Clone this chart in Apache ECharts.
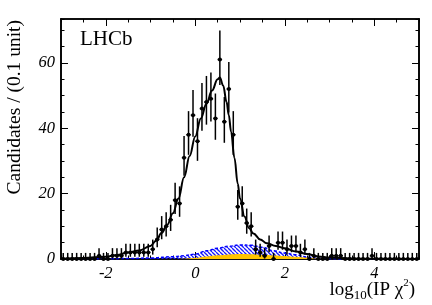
<!DOCTYPE html>
<html><head><meta charset="utf-8">
<script src="https://cdn.jsdelivr.net/npm/echarts@6/dist/echarts.min.js"></script>
<style>html,body{margin:0;padding:0;background:#fff}#c{width:432px;height:305px}</style>
</head><body><div id="c"></div>
<script>
// ---- data ----
const binStart = -3, binWidth = 0.1;
const counts = [
  0,0,0,0,0,0,0,0,
  1,0,0,
  1,1,1,
  2,2,2,2,2,
  2,3,6,9,10,12,18,17,
  31,38,44,36,46,48,49,43,61,42,52,38,
  16,17,11,10,3,2,1,4,0,5,5,3,4,4,2,3,0,1,
  0,0,0,1,1,1,0,0,0,0,0,0,1,
  0,0,0,0,0,0,0,0,0,0
];
const fitX = [-3,-2.5,-2,-1.75,-1.5,-1.25,-1,-0.875,-0.75,-0.625,-0.5,-0.375,-0.25,-0.125,0,0.125,0.25,0.375,0.5,0.55,0.625,0.7,0.75,0.8,0.875,0.95,1.0,1.1,1.2,1.3,1.45,1.6,1.8,2.0,2.25,2.5,2.75,3.0,3.5,4.0,5.0];
const fitY = [0.1,0.3,0.7,1.2,2.0,2.6,4.0,5.6,8,10.5,14,18.5,25,31.5,37.5,43,47.5,51.5,55,55.5,53,48,44,39,31,23,18.5,13,9.5,7.8,6,4.8,4,3.3,2.3,1.5,0.8,0.45,0.15,0.05,0];
const bkgX = [-3,-2,-1.5,-1,-0.5,-0.25,0,0.25,0.5,0.75,1.0,1.25,1.5,1.75,2.0,2.25,2.5,2.75,3.0,3.5,5];
const bkgY = [0,0.05,0.15,0.3,0.7,1.0,1.5,2.5,3.3,3.9,4.3,4.2,3.6,2.5,1.8,1.3,0.6,0.2,0.05,0,0];
const yelX = [-3,-0.5,-0.25,0,0.25,0.5,0.75,1.0,1.25,1.5,1.75,2.0,2.25,2.5,2.75,3.0,5];
const yelY = [0,0,0.1,0.35,0.8,1.15,1.4,1.5,1.45,1.3,1.1,0.9,0.65,0.4,0.15,0,0];
const xLabelValues = [-2,0,2,4];
const yLabelValues = [0,20,40,60];

// ---- build ----
const points = counts.map((n, i) => {
  const xc = binStart + binWidth * (i + 0.5);
  const hi = n + 1 + Math.sqrt(n + 0.75);
  const lo = n > 0 ? n - Math.sqrt(n - 0.25) : 0;
  return [xc, n, lo, hi];
});
const zip = (a, b) => a.map((v, i) => [v, b[i]]);

const hatch = document.createElement('canvas');
const s = 4; hatch.width = s; hatch.height = s;
const hc = hatch.getContext('2d');
hc.strokeStyle = '#1a1aff'; hc.lineWidth = 1.3;
for (const c of [-s, 0, s]) { hc.beginPath(); hc.moveTo(0, c); hc.lineTo(s, c + s); hc.stroke(); }

const FONT = 'Liberation Serif';
const X0 = -3, X1 = 5, Y0 = 0, Y1 = 73.4;
const line = {show: true, onZero: false, lineStyle: {color: '#000', width: 1.6}};
function xa(pos, long, labels) {
  return {type: 'value', min: X0, max: X1, position: pos, interval: long ? 1 : 0.5,
    axisLine: line, splitLine: {show: false},
    axisTick: Object.assign({show: true, inside: true, length: long ? 7 : 3.5, lineStyle: {color: '#000', width: 1}}, long ? {customValues: xLabelValues} : {}),
    axisLabel: labels ? {show: true, customValues: xLabelValues, fontFamily: FONT, fontStyle: 'italic', fontSize: 16.5, color: '#000', margin: 6} : {show: false}};
}
function ya(pos, long, labels) {
  return {type: 'value', min: Y0, max: Y1, position: pos, interval: long ? 20 : 5,
    axisLine: line, splitLine: {show: false},
    axisTick: Object.assign({show: true, inside: true, length: long ? 7 : 3.5, lineStyle: {color: '#000', width: 1}}, long ? {customValues: yLabelValues} : {}),
    axisLabel: labels ? {show: true, customValues: yLabelValues, fontFamily: FONT, fontStyle: 'italic', fontSize: 16.5, color: '#000', margin: 6} : {show: false}};
}

const chart = echarts.init(document.getElementById('c'), null, {renderer: 'canvas'});
chart.setOption({
  animation: false,
  backgroundColor: '#fff',
  grid: {left: 61, right: 13, top: 19, bottom: 46, containLabel: false},
  xAxis: [xa('bottom', false, false), xa('bottom', true, true), xa('top', false, false), xa('top', true, false)],
  yAxis: [ya('left', false, false), ya('left', true, true), ya('right', false, false), ya('right', true, false)],
  series: [
    {type: 'line', name: 'bkg', data: zip(bkgX, bkgY), smooth: 0.4, smoothMonotone: 'x', showSymbol: false, z: 2,
      lineStyle: {color: '#0000ff', width: 1.5, type: [3, 2]},
      areaStyle: {color: {image: hatch, repeat: 'repeat'}, opacity: 1}},
    {type: 'line', name: 'yel', data: zip(yelX, yelY), smooth: 0.4, smoothMonotone: 'x', showSymbol: false, z: 3,
      lineStyle: {width: 0, color: '#ffc400'}, areaStyle: {color: '#ffc400', opacity: 1}},
    {type: 'line', name: 'fit', data: zip(fitX, fitY), smooth: 0.4, smoothMonotone: 'x', showSymbol: false, z: 4,
      lineStyle: {color: '#000', width: 2}},
    {type: 'custom', name: 'data', data: points, z: 5,
      renderItem: function (params, api) {
        const xc = api.value(0), n = api.value(1), lo = api.value(2), hi = api.value(3);
        const p = api.coord([xc, n]);
        const pl = api.coord([xc - binWidth / 2, n]);
        const pr = api.coord([xc + binWidth / 2, n]);
        const pLo = api.coord([xc, lo]);
        const pHi = api.coord([xc, hi]);
        return {type: 'group', children: [
          {type: 'line', shape: {x1: pLo[0], y1: pLo[1], x2: pHi[0], y2: pHi[1]}, style: {stroke: '#000', lineWidth: 1.5}},
          {type: 'line', shape: {x1: pl[0], y1: p[1], x2: pr[0], y2: p[1]}, style: {stroke: '#000', lineWidth: 1.5}},
          {type: 'circle', shape: {cx: p[0], cy: p[1], r: 2}, style: {fill: '#000'}}
        ]};
      }}
  ],
  graphic: [
    {type: 'text', x: 80, y: 39, style: {text: 'LHCb', fontFamily: FONT, fontSize: 21, fill: '#000', verticalAlign: 'middle', align: 'left'}},
    {type: 'text', x: 15, y: 20, rotation: Math.PI / 2,
      style: {text: 'Candidates / (0.1 unit)', fontFamily: FONT, fontSize: 19.5, fill: '#000', align: 'right', verticalAlign: 'middle'}},
    {type: 'text', x: 415, y: 290,
      style: {text: 'log{sub|10}(IP χ{sup|2})', fontFamily: FONT, fontSize: 19, fill: '#000', align: 'right', verticalAlign: 'middle',
        rich: {sub: {fontFamily: FONT, fontSize: 13, lineHeight: 13, verticalAlign: 'bottom', fill: '#000'},
               sup: {fontFamily: FONT, fontSize: 11, lineHeight: 11, verticalAlign: 'top', fill: '#000'}},
        lineHeight: 25}}
  ]
});
</script></body></html>
